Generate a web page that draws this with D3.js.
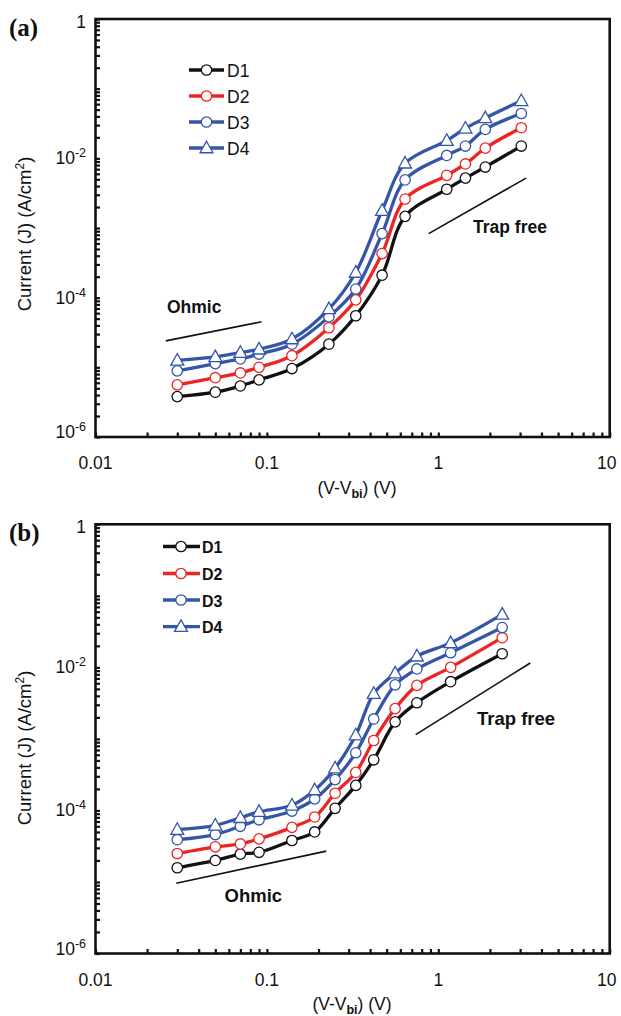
<!DOCTYPE html>
<html>
<head>
<meta charset="utf-8">
<script src="https://cdn.jsdelivr.net/npm/d3@7"></script>
<style>
  body { margin: 0; background: #fff; }
  svg { display: block; }
  text { font-family: "Liberation Sans", Arial, Helvetica, sans-serif; fill: #111; }
</style>
</head>
<body>
<svg id="fig" width="621" height="1016"></svg>
<script>
// ---- data: current density J (A/cm^2) vs (V - Vbi) (V) ----
const seriesNames = ["D1", "D2", "D3", "D4"];

// panel (a)
const voltageA = [0.03, 0.05, 0.07, 0.09, 0.14, 0.23, 0.33, 0.47, 0.64, 1.12, 1.44, 1.88, 3.05];
const d1A = [3.8e-6, 4.4e-6, 5.4e-6, 6.6e-6, 9.6e-6, 2.15e-5, 5.5e-5, 2.1e-4, 1.47e-3, 3.6e-3, 5.2e-3, 7.5e-3, 1.5e-2];
const d2A = [5.6e-6, 7.1e-6, 8.3e-6, 1.0e-5, 1.47e-5, 3.7e-5, 9.3e-5, 4.3e-4, 2.6e-3, 5.7e-3, 8.3e-3, 1.4e-2, 2.75e-2];
const d3A = [8.9e-6, 1.13e-5, 1.32e-5, 1.55e-5, 2.15e-5, 5.3e-5, 1.33e-4, 8.3e-4, 4.9e-3, 1.1e-2, 1.5e-2, 2.6e-2, 4.4e-2];
const d4A = [1.26e-5, 1.41e-5, 1.63e-5, 1.82e-5, 2.55e-5, 6.9e-5, 2.3e-4, 1.78e-3, 8.5e-3, 1.8e-2, 2.7e-2, 3.8e-2, 6.7e-2];

// panel (b)
const voltageB = [0.03, 0.05, 0.07, 0.09, 0.14, 0.19, 0.25, 0.33, 0.42, 0.56, 0.75, 1.18, 2.36];
const d1B = [1.58e-5, 2.0e-5, 2.45e-5, 2.6e-5, 3.8e-5, 5.0e-5, 1.07e-4, 2.24e-4, 5.1e-4, 1.73e-3, 3.2e-3, 6.3e-3, 1.55e-2];
const d2B = [2.5e-5, 3.1e-5, 3.4e-5, 4.0e-5, 5.8e-5, 8.1e-5, 1.74e-4, 3.4e-4, 9.5e-4, 2.65e-3, 5.6e-3, 1.0e-2, 2.6e-2];
const d3B = [3.9e-5, 4.6e-5, 6.0e-5, 7.4e-5, 9.8e-5, 1.45e-4, 2.7e-4, 6.4e-4, 1.9e-3, 5.7e-3, 9.5e-3, 1.6e-2, 3.6e-2];
const d4B = [5.4e-5, 6.2e-5, 7.9e-5, 9.6e-5, 1.18e-4, 1.93e-4, 3.9e-4, 1.13e-3, 4.3e-3, 8.3e-3, 1.43e-2, 2.2e-2, 5.5e-2];

// guide lines: [[x1, J1], [x2, J2]]
const ohmicA = [[0.0257, 2.4e-5], [0.093, 4.5e-5]];
const trapA  = [[0.879, 8.3e-4], [3.25, 5.2e-3]];
const ohmicB = [[0.0296, 9.6e-6], [0.222, 2.7e-5]];
const trapB  = [[0.738, 1.15e-3], [3.44, 1.15e-2]];

// axis tick labels
const xTickLabels = [[0.01, "0.01"], [0.1, "0.1"], [1, "1"], [10, "10"]];
const yTickLabels = [[1, null], [1e-2, "-2"], [1e-4, "-4"], [1e-6, "-6"]];

// ---- styles ----
const colors = ["#111111", "#ee2424", "#3556a8", "#3556a8"];
const symbols = ["circle", "circle", "circle", "triangle"];

const svg = d3.select("#fig");
svg.append("rect").attr("width", 621).attr("height", 1016).attr("fill", "#fff");

function marker(g, kind, cx, cy, color) {
  if (kind === "circle") {
    g.append("circle").attr("cx", cx).attr("cy", cy).attr("r", 5.2)
      .attr("fill", "#fff").attr("stroke", color).attr("stroke-width", 1.3);
  } else {
    const s = 6.8;
    g.append("path")
      .attr("d", `M${cx},${cy - s} L${cx + s * 0.95},${cy + s * 0.7} L${cx - s * 0.95},${cy + s * 0.7} Z`)
      .attr("fill", "#fff").attr("stroke", color).attr("stroke-width", 1.3);
  }
}

function panel(cfg) {
  const g = svg.append("g");
  const x = d3.scaleLog().domain([0.01, 10]).range([95.5, 609.7]);
  const y = d3.scaleLog().domain([1e-6, 1]).range([cfg.bottom, cfg.top]);

  // minor/major ticks, pointing inward
  const xt = [];
  for (let k = -2; k <= 0; k++) for (let m = 1; m <= 9; m++) xt.push(m * Math.pow(10, k));
  xt.push(10);
  const yt = [];
  for (let k = -6; k <= -1; k++) for (let m = 1; m <= 9; m++) yt.push(m * Math.pow(10, k));
  yt.push(1);

  const xa = g.append("g").attr("transform", `translate(0,${cfg.bottom})`)
    .call(d3.axisBottom(x).tickValues(xt).tickSize(-4.5).tickFormat(""));
  const ya = g.append("g").attr("transform", `translate(95.5,0)`)
    .call(d3.axisLeft(y).tickValues(yt).tickSize(-4.5).tickFormat(""));
  [xa, ya].forEach(a => {
    a.select(".domain").remove();
    a.selectAll("line").attr("stroke", "#111").attr("stroke-width", 2.2);
  });

  // frame
  g.append("rect")
    .attr("x", x(0.01)).attr("y", cfg.top)
    .attr("width", x(10) - x(0.01)).attr("height", cfg.bottom - cfg.top)
    .attr("fill", "none").attr("stroke", "#111").attr("stroke-width", 2.6);

  // x tick labels
  xTickLabels.forEach(([v, t]) => {
    g.append("text").attr("x", v === 10 ? x(v) - 3 : x(v)).attr("y", cfg.bottom + 32)
      .attr("text-anchor", "middle").attr("font-size", 17.5).text(t);
  });
  // y tick labels
  yTickLabels.forEach(([v, sup]) => {
    let yy = y(v) + 6;
    if (v === 1) yy += 3;
    if (v === 1e-6) yy -= 5;
    const t = g.append("text").attr("x", 86).attr("y", yy)
      .attr("text-anchor", "end").attr("font-size", 17.5);
    if (sup === null) {
      t.text("1");
    } else {
      t.append("tspan").text("10");
      t.append("tspan").attr("dy", -7).attr("font-size", 12.5).text(sup);
    }
  });

  // axis titles
  const yt2 = g.append("text")
    .attr("transform", `translate(31,${cfg.ytitleY}) rotate(-90)`)
    .attr("text-anchor", "middle").attr("font-size", 18.5);
  yt2.append("tspan").text("Current (J) (A/cm");
  yt2.append("tspan").attr("dy", -7).attr("font-size", 12).text("2");
  yt2.append("tspan").attr("dy", 7).text(")");

  const xt2 = g.append("text").attr("x", cfg.xtitleX).attr("y", cfg.xtitleY)
    .attr("text-anchor", "middle").attr("font-size", 17.5);
  xt2.append("tspan").text("(V-V");
  xt2.append("tspan").attr("dy", 4).attr("font-size", 12.5).attr("font-weight", "bold").text("bi");
  xt2.append("tspan").attr("dy", -4).text(") (V)");

  // panel letter (serif)
  g.append("text").attr("x", 9).attr("y", cfg.top + 17)
    .style("font-family", "'Liberation Serif', 'Times New Roman', serif")
    .attr("font-weight", "bold").attr("font-size", 25).text(cfg.letter);

  // guide lines
  [cfg.ohmic, cfg.trap].forEach(seg => {
    g.append("line")
      .attr("x1", x(seg[0][0])).attr("y1", y(seg[0][1]))
      .attr("x2", x(seg[1][0])).attr("y2", y(seg[1][1]))
      .attr("stroke", "#111").attr("stroke-width", 1.6);
  });
  g.append("text").attr("x", cfg.ohmicLabel[0]).attr("y", cfg.ohmicLabel[1])
    .attr("font-weight", "bold").attr("font-size", cfg.noteSize).text("Ohmic");
  g.append("text").attr("x", cfg.trapLabel[0]).attr("y", cfg.trapLabel[1])
    .attr("font-weight", "bold").attr("font-size", cfg.noteSize).text("Trap free");

  // curves
  const line = d3.line().x(d => x(d[0])).y(d => y(d[1])).curve(d3.curveCatmullRom.alpha(0.5));
  cfg.series.forEach((vals, i) => {
    const pts = cfg.voltage.map((v, j) => [v, vals[j]]);
    g.append("path").attr("d", line(pts)).attr("fill", "none")
      .attr("stroke", colors[i]).attr("stroke-width", 3.3).attr("stroke-linejoin", "round");
    pts.forEach(p => marker(g, symbols[i], x(p[0]), y(p[1]), colors[i]));
  });

  // legend
  const L = cfg.legend;
  seriesNames.forEach((name, i) => {
    const yy = L.rows[i];
    g.append("line").attr("x1", L.x1).attr("x2", L.x2).attr("y1", yy).attr("y2", yy)
      .attr("stroke", colors[i]).attr("stroke-width", 3.3);
    marker(g, symbols[i], L.mx, yy, colors[i]);
    g.append("text").attr("x", L.tx).attr("y", yy + 6.5)
      .attr("font-size", L.size).attr("font-weight", L.weight).text(name);
  });
}

panel({
  letter: "(a)", top: 19, bottom: 437,
  voltage: voltageA, series: [d1A, d2A, d3A, d4A],
  ohmic: ohmicA, trap: trapA,
  ohmicLabel: [167, 312.5], trapLabel: [473, 232.5], noteSize: 17.5,
  ytitleY: 234, xtitleX: 357, xtitleY: 494,
  legend: { rows: [70, 96, 122, 148], x1: 189, x2: 224, mx: 206.5, tx: 227, size: 17.5, weight: "normal" }
});

panel({
  letter: "(b)", top: 524.3, bottom: 953.5,
  voltage: voltageB, series: [d1B, d2B, d3B, d4B],
  ohmic: ohmicB, trap: trapB,
  ohmicLabel: [224.5, 902], trapLabel: [477, 724.5], noteSize: 18.5,
  ytitleY: 748, xtitleX: 352, xtitleY: 1010,
  legend: { rows: [546.5, 573.5, 600, 626.7], x1: 163, x2: 200, mx: 181, tx: 202, size: 16, weight: "bold" }
});
</script>
</body>
</html>
